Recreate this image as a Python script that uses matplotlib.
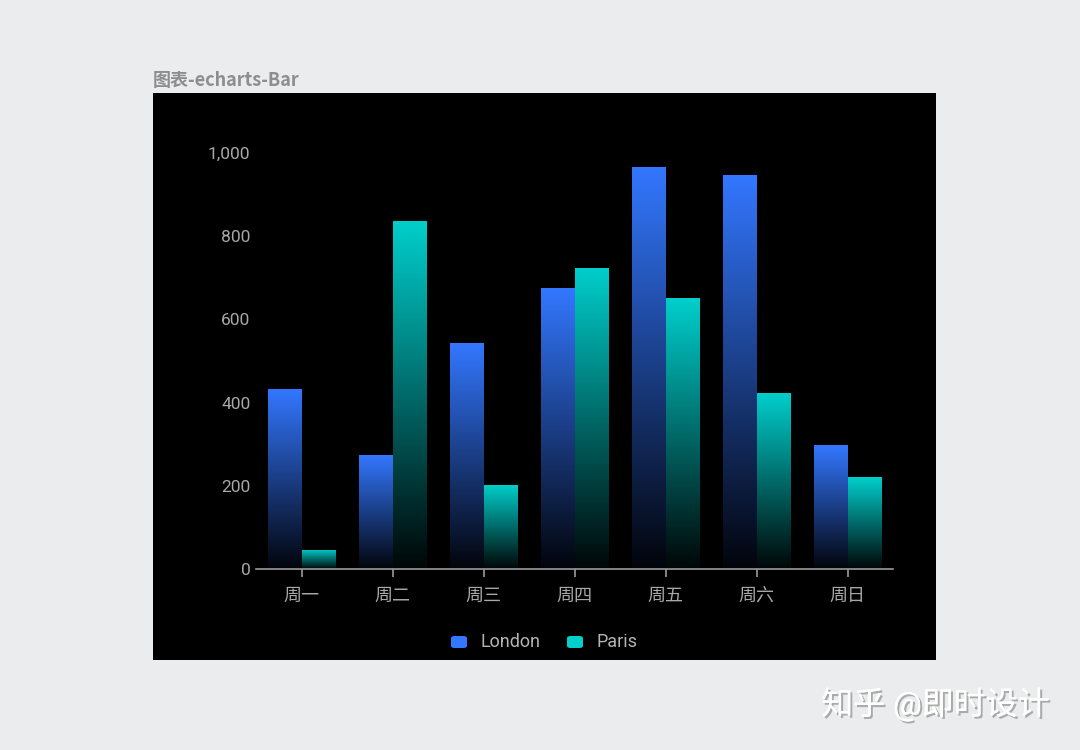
import numpy as np
import matplotlib
matplotlib.use("Agg")
import matplotlib.pyplot as plt
from matplotlib.colors import LinearSegmentedColormap
from matplotlib.patches import FancyBboxPatch
import matplotlib.patheffects as pe

plt.rcParams['font.family'] = ['Roboto', 'Noto Sans CJK SC', 'DejaVu Sans']

# data
days = ['周一', '周二', '周三', '周四', '周五', '周六', '周日']
london = [432, 274, 543, 675, 966, 947, 298]
paris = [46, 837, 202, 724, 651, 423, 221]
yticks = [0, 200, 400, 600, 800, 1000]

london_top, london_bottom = '#3377ff', '#02040b'
paris_top, paris_bottom = '#00cfcc', '#000606'

fig = plt.figure(figsize=(10.8, 7.5), dpi=100)
fig.patch.set_facecolor('#ebecee')

# black panel
panel = fig.add_axes([153 / 1080, 90 / 750, 783 / 1080, 567 / 750])
panel.set_facecolor('black')
panel.set_xticks([])
panel.set_yticks([])
for s in panel.spines.values():
    s.set_visible(False)

ax = fig.add_axes([256 / 1080, 181 / 750, 637 / 1080, 457.6 / 750])
ax.set_facecolor('none')

x = np.arange(len(days))
w = 0.363


def gradient_bars(xs, vals, top, bottom, label):
    cmap = LinearSegmentedColormap.from_list(label, [bottom, top])
    bars = ax.bar(xs, vals, width=w, color='none', edgecolor='none', label=label)
    grad = np.linspace(0, 1, 256).reshape(-1, 1)
    for b in bars:
        x0, h = b.get_x(), b.get_height()
        im = ax.imshow(grad, cmap=cmap, origin='lower', aspect='auto',
                       extent=[x0, x0 + b.get_width(), 0, h], zorder=2)
        im.set_clip_path(b)
    return bars


gradient_bars(x - w / 2, london, london_top, london_bottom, 'London')
gradient_bars(x + w / 2, paris, paris_top, paris_bottom, 'Paris')

ax.set_xlim(-0.5, len(days) - 0.5)
ax.set_ylim(0, 1100)
ax.set_yticks(yticks)
ax.set_yticklabels([f'{v:,}' for v in yticks])
ax.set_xticks(x)
ax.set_xticklabels(days)
ax.tick_params(axis='y', length=0, pad=4, labelsize=12.5, labelcolor='#a8a8a8')
ax.tick_params(axis='x', length=6, width=1.2, color='#9a9a9a', pad=7,
               labelsize=13, labelcolor='#a8a8a8', direction='out')
for side in ['top', 'right', 'left']:
    ax.spines[side].set_visible(False)
ax.spines['bottom'].set_color('#9a9a9a')
ax.spines['bottom'].set_linewidth(1.2)

# legend
for cx, col, name in [(451, london_top, 'London'), (567, paris_top, 'Paris')]:
    box = FancyBboxPatch((cx / 1080, (750 - 648) / 750), 16 / 1080, 12 / 750,
                         boxstyle='round,pad=0,rounding_size=0.003',
                         transform=fig.transFigure, facecolor=col, edgecolor='none')
    fig.patches.append(box)
    fig.text((cx + 30) / 1080, (750 - 642) / 750, name, fontsize=13,
             color='#b4b4b4', va='center', ha='left')

fig.text(153 / 1080, (750 - 80) / 750, '图表-echarts-Bar', fontsize=13,
         color='#8e8e8e', fontweight='bold', va='center', ha='left',
         family=['Noto Sans CJK SC', 'DejaVu Sans'])

fig.text(1050 / 1080, (750 - 704) / 750, '知乎 @即时设计', fontsize=23,
         color='white', va='center', ha='right',
         path_effects=[pe.withSimplePatchShadow(offset=(1.5, -1.5),
                                                shadow_rgbFace='#9a9a9a', alpha=0.8),
                       pe.Normal()])

fig.savefig('out.png', dpi=100, facecolor=fig.get_facecolor())
